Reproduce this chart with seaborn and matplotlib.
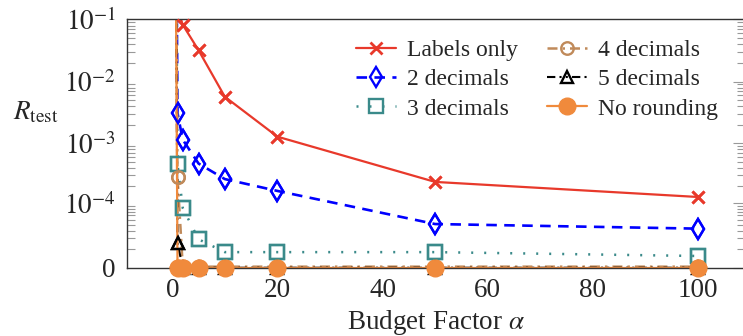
import numpy as np
import pandas as pd
import matplotlib
matplotlib.use('Agg')
import matplotlib.pyplot as plt
import seaborn as sns
from matplotlib.ticker import FixedLocator, NullFormatter

# budget factor alpha (x) and R_test per rounding setting (y)
budget      = [0, 1, 2, 5, 10, 20, 50, 100]
labels_only = [1e10, 0.15, 0.082, 0.032, 0.0057, 1.29e-3, 2.33e-4, 1.29e-4]
dec2        = [1e10, 3.1e-3, 1.15e-3, 4.7e-4, 2.6e-4, 1.64e-4, 4.1e-5, 3.3e-5]
dec3        = [1e10, 4.6e-4, 8.2e-5, 1.9e-5, 8e-6, 8e-6, 8e-6, 5.6e-6]
dec4        = [1e10, 2.8e-4, 5e-7, 5e-7, 5e-7, 5e-7, 5e-7, 5e-7]
dec5        = [1e10, 1.5e-5, 1e-7, 1e-7, 1e-7, 1e-7, 1e-7, 1e-7]
no_round    = [1e10, 0, 0, 0, 0, 0, 0, 0]

series_names = ['Labels only', '2 decimals', '3 decimals',
                '4 decimals', '5 decimals', 'No rounding']
series_vals  = [labels_only, dec2, dec3, dec4, dec5, no_round]

ytick_vals   = [0, 1e-4, 1e-3, 1e-2, 1e-1]
ytick_labels = ['0', r'$10^{-4}$', r'$10^{-3}$', r'$10^{-2}$', r'$10^{-1}$']
xtick_vals   = [0, 20, 40, 60, 80, 100]

SHIFT = 1e-5   # y axis is log10(R + 1e-5)

def fwd(y):
    return np.log10(np.clip(y, 0, None) + SHIFT)

def inv(t):
    return 10.0 ** t - SHIFT

sns.set_theme(style='white')
plt.rcParams['font.family'] = ['Liberation Serif', 'DejaVu Serif']
plt.rcParams['mathtext.fontset'] = 'stix'

styles = {
    'Labels only': dict(color='#e8392b', linestyle='-', lw=1.6, marker='x',
                        ms=9, mew=2.0, mfc='#e8392b', mec='#e8392b'),
    '2 decimals':  dict(color='#0000ff', linestyle=(0, (4, 2.8)), lw=1.9, marker='d',
                        ms=10, mew=1.7, mfc='none', mec='#0000ff'),
    '3 decimals':  dict(color='#3a8a8a', linestyle=(0, (0.8, 4.4)), lw=1.8, marker='s',
                        ms=10, mew=1.7, mfc='none', mec='#3a8a8a'),
    '4 decimals':  dict(color='#c08a5a', linestyle=(0, (4, 2, 1, 2)), lw=1.8, marker='o',
                        ms=9, mew=1.7, mfc='none', mec='#c08a5a'),
    '5 decimals':  dict(color='black', linestyle=(0, (4, 2, 1, 2, 1, 2)), lw=1.5, marker='^',
                        ms=9, mew=1.7, mfc='none', mec='black'),
    'No rounding': dict(color='#f08a3c', linestyle='-', lw=1.6, marker='o',
                        ms=12, mew=1, mfc='#f08a3c', mec='#f08a3c'),
}

fig = plt.figure(figsize=(7.43, 3.36), dpi=100)
ax = fig.add_axes([0.171, 0.2024, 0.832, 0.7396])
ax.set_yscale('function', functions=(fwd, inv))

for name, vals in zip(series_names, series_vals):
    df = pd.DataFrame({'alpha': budget, 'R': vals})
    st = styles[name]
    sns.lineplot(data=df, x='alpha', y='R', ax=ax, label=name, **st)
    # markers are not clipped at the axis border
    shown = df[df['R'] <= 0.1]
    ax.plot(shown['alpha'], shown['R'], linestyle='none', clip_on=False,
            marker=st['marker'], ms=st['ms'], mew=st['mew'],
            mfc=st['mfc'], mec=st['mec'], zorder=3)

ax.set_xlim(-8.6, 109)
ax.set_ylim(0, 0.1)

ax.set_xticks(xtick_vals)
ax.set_yticks(ytick_vals)
ax.set_yticklabels(ytick_labels)
minor = [m * 1e-5 for m in range(1, 10)]
for k in (-4, -3, -2):
    minor += [m * 10.0 ** k for m in range(2, 10)]
ax.yaxis.set_minor_locator(FixedLocator(minor))
ax.yaxis.set_minor_formatter(NullFormatter())

ax.tick_params(axis='both', which='both', direction='in', color='#999999',
               labelsize=19.5, width=0.8)
ax.tick_params(axis='both', which='major', length=8.5)
ax.tick_params(axis='y', which='minor', length=5.5, left=True, right=True)
ax.tick_params(axis='y', which='major', right=True, pad=8)
ax.tick_params(axis='x', which='major', pad=7)
for s in ax.spines.values():
    s.set_color('#333333')
    s.set_linewidth(1.0)

ax.set_xlabel(r'Budget Factor $\alpha$', fontsize=19.5, labelpad=4)
ax.set_ylabel(r'$R_{\mathrm{test}}$', fontsize=19.5, rotation=0)
ax.yaxis.set_label_coords(-0.147, 0.575)

ax.legend(ncol=2, frameon=False, fontsize=17, loc='upper right',
          bbox_to_anchor=(0.956, 0.92), handlelength=1.7, columnspacing=1.25,
          labelspacing=0.33, handletextpad=0.45, borderaxespad=0, borderpad=0)

plt.savefig('out.png', dpi=100)
